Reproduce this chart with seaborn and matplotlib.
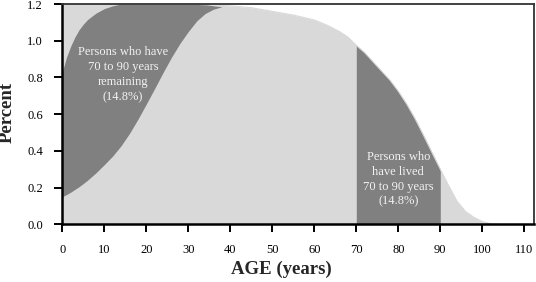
import numpy as np
import pandas as pd
import matplotlib
matplotlib.use("Agg")
import matplotlib.pyplot as plt
import seaborn as sns

# survival curve (light gray area)
age = [0, 10, 20, 30, 35, 40, 45, 50, 55, 60, 63, 66, 68, 70, 72, 74, 76, 78,
       80, 82, 84, 86, 88, 90, 92, 94, 96, 98, 100, 102, 104]
surv = [1.2, 1.2, 1.2, 1.2, 1.195, 1.19, 1.18, 1.16, 1.14, 1.113, 1.085, 1.05,
        1.02, 0.975, 0.935, 0.885, 0.835, 0.786, 0.725, 0.655, 0.575, 0.485,
        0.392, 0.30, 0.21, 0.125, 0.07, 0.038, 0.015, 0.003, 0.0]

# band: persons with 70 to 90 years remaining
band_age = [0, 1, 2, 3, 4, 5, 6, 8, 10, 12, 14, 16, 18, 20, 22, 24, 26, 28,
            30, 32, 34, 36, 38]
band_low = [0.15, 0.162, 0.175, 0.19, 0.205, 0.222, 0.24, 0.28, 0.325, 0.372,
            0.428, 0.495, 0.572, 0.655, 0.74, 0.827, 0.91, 0.985, 1.05, 1.108,
            1.148, 1.172, 1.185]
band_high = [0.83, 0.91, 0.97, 1.02, 1.06, 1.09, 1.115, 1.15, 1.175, 1.19,
             1.2, 1.2, 1.2, 1.2, 1.2, 1.2, 1.2, 1.2, 1.2, 1.2, 1.2, 1.19, 1.185]

lived_from, lived_to = 70, 90
xticks = list(range(0, 111, 10))
yticks = [0.0, 0.2, 0.4, 0.6, 0.8, 1.0, 1.2]

sns.set_style("ticks")
plt.rcParams['font.family'] = ['Liberation Serif', 'DejaVu Serif']

light = '#d9d9d9'
dark = '#808080'

df = pd.DataFrame({'age': age, 'surv': surv})

fig = plt.figure(figsize=(5.36, 2.82), dpi=100)
ax = fig.add_axes([0.1162, 0.2046, 0.88, 0.7812])

ax.fill_between(df['age'], 0, df['surv'], color=light, lw=0)
sns.lineplot(data=df, x='age', y='surv', color=light, lw=0.8, ax=ax)
ax.fill_between(band_age, band_low, band_high, color=dark, lw=0)
sel = df[(df['age'] >= lived_from) & (df['age'] <= lived_to)]
ax.fill_between(sel['age'], 0, sel['surv'], color=dark, lw=0)

ax.text(14.5, 0.815, "Persons who have\n70 to 90 years\nremaining\n(14.8%)",
        ha='center', va='center', color='#f2f2f2', fontsize=9, linespacing=1.33)
ax.text(80, 0.245, "Persons who\nhave lived\n70 to 90 years\n(14.8%)",
        ha='center', va='center', color='#f2f2f2', fontsize=9, linespacing=1.33)

ax.set_xlim(0, 112.3)
ax.set_ylim(0, 1.2)
ax.set_xticks(xticks)
ax.set_yticks(yticks)
ax.set_yticklabels([f"{v:.1f}" for v in yticks])
ax.tick_params(direction='out', length=6, width=1.4, labelsize=9,
               colors='black', pad=8)

for s in ['left', 'bottom']:
    ax.spines[s].set_linewidth(1.8)
    ax.spines[s].set_color('black')
for s in ['top', 'right']:
    ax.spines[s].set_linewidth(1.3)
    ax.spines[s].set_color('#333333')
    ax.spines[s].set_visible(True)

ax.set_xlabel("AGE (years)", fontsize=13.5, fontweight='bold')
ax.set_ylabel("Percent", fontsize=13.5, fontweight='bold')
ax.xaxis.set_label_coords(0.464, -0.163)
ax.yaxis.set_label_coords(-0.098, 0.507)

fig.savefig("out.png", dpi=100)
